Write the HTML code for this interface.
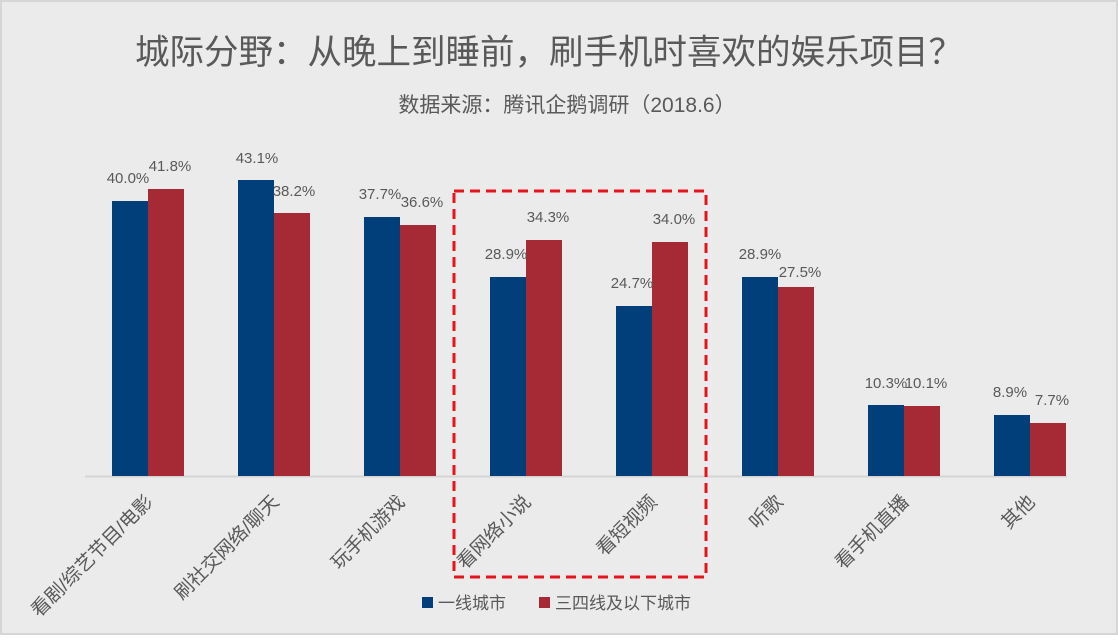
<!DOCTYPE html>
<html><head><meta charset="utf-8"><style>
body{margin:0;width:1118px;height:635px;overflow:hidden;background:#fff}
svg text{font-family:"Liberation Sans","Noto Sans CJK SC",sans-serif;fill:#595959}
</style></head><body>
<svg width="1118" height="635" xmlns="http://www.w3.org/2000/svg">
<rect x="1" y="1" width="1116" height="633" fill="#ebebeb" stroke="#d6d6d6" stroke-width="2"/>
<text x="549" y="64" font-size="34.5" text-anchor="middle">城际分野：从晚上到睡前，刷手机时喜欢的娱乐项目？</text>
<text x="567" y="112" font-size="21" text-anchor="middle">数据来源：腾讯企鹅调研（2018.6）</text>
<line x1="85" y1="476.5" x2="1067" y2="476.5" stroke="#d4d4d4" stroke-width="2"/>
<g font-size="15" text-anchor="middle">
<rect x="112" y="201" width="36" height="275" fill="#003f7a"/><rect x="148" y="189" width="36" height="287" fill="#a52a36"/>
<text x="128" y="183">40.0%</text><text x="170" y="171">41.8%</text>
<rect x="238" y="180" width="36" height="296" fill="#003f7a"/><rect x="274" y="213" width="36" height="263" fill="#a52a36"/>
<text x="257" y="163">43.1%</text><text x="294" y="196">38.2%</text>
<rect x="364" y="217" width="36" height="259" fill="#003f7a"/><rect x="400" y="225" width="36" height="251" fill="#a52a36"/>
<text x="380" y="199">37.7%</text><text x="422" y="207">36.6%</text>
<rect x="490" y="277" width="36" height="199" fill="#003f7a"/><rect x="526" y="240" width="36" height="236" fill="#a52a36"/>
<text x="506" y="259">28.9%</text><text x="548" y="222">34.3%</text>
<rect x="616" y="306" width="36" height="170" fill="#003f7a"/><rect x="652" y="242" width="36" height="234" fill="#a52a36"/>
<text x="632" y="288">24.7%</text><text x="674" y="224">34.0%</text>
<rect x="742" y="277" width="36" height="199" fill="#003f7a"/><rect x="778" y="287" width="36" height="189" fill="#a52a36"/>
<text x="760" y="259">28.9%</text><text x="800" y="277">27.5%</text>
<rect x="868" y="405" width="36" height="71" fill="#003f7a"/><rect x="904" y="406" width="36" height="70" fill="#a52a36"/>
<text x="886" y="388">10.3%</text><text x="926" y="388">10.1%</text>
<rect x="994" y="415" width="36" height="61" fill="#003f7a"/><rect x="1030" y="423" width="36" height="53" fill="#a52a36"/>
<text x="1010" y="397">8.9%</text><text x="1052" y="405">7.7%</text>
</g>
<g font-size="19" text-anchor="end">
<text transform="translate(154,503) rotate(-45)">看剧/综艺节目/电影</text>
<text transform="translate(280,503) rotate(-45)">刷社交网络/聊天</text>
<text transform="translate(406,503) rotate(-45)">玩手机游戏</text>
<text transform="translate(532,503) rotate(-45)">看网络小说</text>
<text transform="translate(658,503) rotate(-45)">看短视频</text>
<text transform="translate(784,503) rotate(-45)">听歌</text>
<text transform="translate(910,503) rotate(-45)">看手机直播</text>
<text transform="translate(1036,503) rotate(-45)">其他</text>
</g>
<rect x="454" y="191" width="252" height="386" fill="none" stroke="#e8141b" stroke-width="3" stroke-dasharray="10,6"/>
<rect x="422" y="597" width="11" height="11" fill="#003f7a"/>
<text x="438" y="609" font-size="17">一线城市</text>
<rect x="539" y="597" width="11" height="11" fill="#a52a36"/>
<text x="555" y="609" font-size="17">三四线及以下城市</text>
</svg>
</body></html>
